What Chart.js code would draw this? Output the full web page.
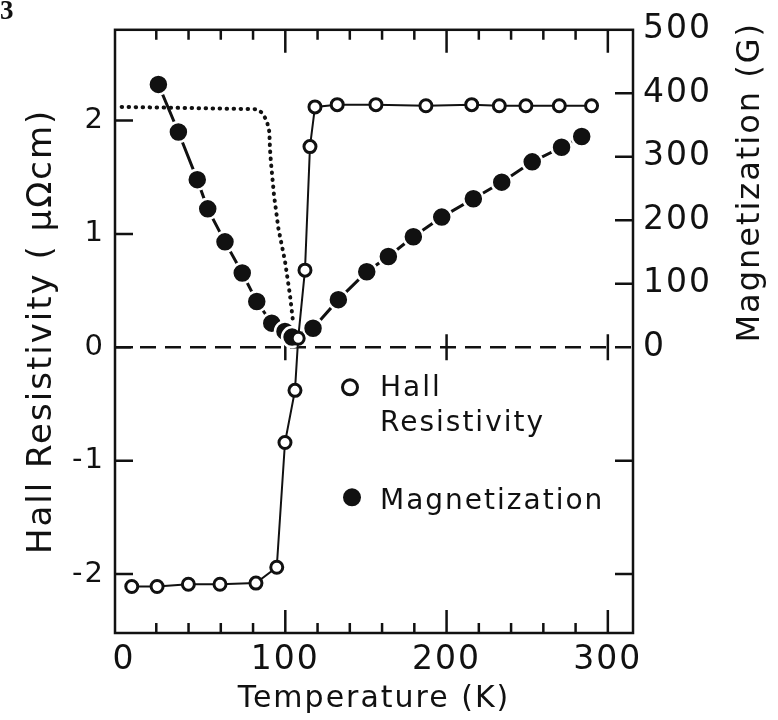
<!DOCTYPE html>
<html>
<head>
<meta charset="utf-8">
<title>Hall Resistivity and Magnetization vs Temperature</title>
<script src="https://cdn.jsdelivr.net/npm/chart.js@4.4.1/dist/chart.umd.min.js"></script>
<style>
  html, body { margin: 0; padding: 0; background: #fff; }
  canvas { display: block; }
</style>
</head>
<body>
<canvas id="chart" width="778" height="720"></canvas>
<script>
// Hall resistivity (open circles): temperature in K, value in μΩcm
const hallT = [4.8, 20.5, 39.9, 59.5, 81.8, 94.7, 99.8, 106.0, 108.0, 112.2, 115.3, 118.4,
  132.2, 156.2, 187.2, 215.6, 232.7, 249.2, 269.9, 289.9];
const hallRho = [-2.11, -2.11, -2.09, -2.09, -2.08, -1.94, -0.84, -0.38, 0.08, 0.68, 1.77, 2.12,
  2.14, 2.14, 2.13, 2.14, 2.13, 2.13, 2.13, 2.13];

// magnetization (filled circles): temperature in K, value in G
const magT = [21.3, 33.7, 45.4, 51.9, 62.6, 73.3, 82.3, 91.6, 99.8, 104.2, 117.2,
  132.9, 150.5, 163.9, 179.4, 197.0, 216.6, 234.2, 253.1, 271.3, 283.8];
const magM = [414, 339, 264, 218, 166, 117, 72, 38, 25, 16, 30,
  75, 119, 143, 174, 205, 234, 260, 292, 315, 332];

// dotted curve (unlabelled in the figure), left axis units
const dotT = [-1.5, 82.3, 85.4, 88.5, 90.1, 90.5, 91.1, 93.0, 95.7, 99.8, 102.9, 105.0];
const dotRho = [2.12, 2.10, 2.07, 2.00, 1.90, 1.75, 1.63, 1.34, 1.05, 0.76, 0.46, 0.20];

// tick labels
const tempTicks = [0, 100, 200, 300];
const rhoTicks = [-2, -1, 0, 1, 2];
const magTicks = [0, 100, 200, 300, 400, 500];
const minorStep = 20;

const xTitle = 'Temperature (K)';
const yTitle = 'Hall Resistivity ( μΩcm)';
const y2Title = 'Magnetization (G)';
const hallLegend = ['Hall', 'Resistivity'];
const magLegend = ['Magnetization'];
const figLabel = '3';

const INK = '#111';
const FONT = '"DejaVu Sans", sans-serif';
const SPACING = '2px';

Chart.defaults.font.family = FONT;
Chart.defaults.color = INK;

function pts(xs, ys) {
  return xs.map((x, i) => ({ x: x, y: ys[i] }));
}

// frame, inward ticks, dashed zero line, legend and right title
const decor = {
  id: 'decor',
  beforeUpdate(chart) {
    chart.ctx.letterSpacing = SPACING;
  },
  beforeDraw(chart) {
    const ctx = chart.ctx;
    ctx.save();
    ctx.fillStyle = '#fff';
    ctx.fillRect(0, 0, chart.width, chart.height);
    ctx.restore();
    ctx.letterSpacing = SPACING;
  },
  beforeDatasetsDraw(chart) {
    const ctx = chart.ctx;
    const a = chart.chartArea;
    const sx = chart.scales.x, sy = chart.scales.y, sm = chart.scales.y2;
    const y0 = sy.getPixelForValue(0);
    ctx.save();
    ctx.strokeStyle = INK;
    ctx.lineWidth = 2.5;
    ctx.strokeRect(a.left, a.top, a.right - a.left, a.bottom - a.top);

    ctx.beginPath();
    for (let t = minorStep; t <= sx.max; t += minorStep) {
      const px = sx.getPixelForValue(t);
      const len = t % 100 === 0 ? 23 : 10;
      ctx.moveTo(px, a.bottom); ctx.lineTo(px, a.bottom - len);
      ctx.moveTo(px, a.top); ctx.lineTo(px, a.top + len);
    }
    rhoTicks.forEach(v => {
      const py = sy.getPixelForValue(v);
      ctx.moveTo(a.left, py); ctx.lineTo(a.left + 18, py);
      if (v < 0) { ctx.moveTo(a.right, py); ctx.lineTo(a.right - 18, py); }
    });
    magTicks.forEach(v => {
      if (v === 0 || v >= sm.max) return;
      const py = sm.getPixelForValue(v);
      ctx.moveTo(a.right, py); ctx.lineTo(a.right - 18, py);
    });
    // little crosses on the zero line
    tempTicks.forEach(t => {
      if (t === 0) return;
      const px = sx.getPixelForValue(t);
      ctx.moveTo(px, y0 - 13); ctx.lineTo(px, y0 + 13);
    });
    ctx.stroke();

    ctx.setLineDash([16, 9]);
    ctx.beginPath();
    ctx.moveTo(a.left, y0); ctx.lineTo(a.right, y0);
    ctx.stroke();
    ctx.restore();
  },
  afterDraw(chart) {
    const ctx = chart.ctx;
    const a = chart.chartArea;
    const y0 = chart.scales.y.getPixelForValue(0);
    const hall = chart.data.datasets[0];
    ctx.save();
    ctx.letterSpacing = SPACING;

    // legend
    ctx.strokeStyle = INK;
    ctx.lineWidth = hall.pointBorderWidth;
    ctx.beginPath();
    ctx.arc(a.left + 235, y0 + 40, 7.5, 0, Math.PI * 2);
    ctx.fillStyle = '#fff';
    ctx.fill();
    ctx.stroke();
    ctx.fillStyle = INK;
    ctx.beginPath();
    ctx.arc(a.left + 237, y0 + 150, 9, 0, Math.PI * 2);
    ctx.fill();

    ctx.font = '28px ' + FONT;
    ctx.textAlign = 'left';
    ctx.textBaseline = 'alphabetic';
    ctx.fillText(hallLegend[0], a.left + 265, y0 + 49);
    ctx.fillText(hallLegend[1], a.left + 265, y0 + 84);
    ctx.fillText(magLegend[0], a.left + 265, y0 + 162);

    // right axis title, reading upwards
    ctx.save();
    ctx.font = '32px ' + FONT;
    ctx.translate(a.right + 118, y0 - 165);
    ctx.rotate(-Math.PI / 2);
    ctx.textAlign = 'center';
    ctx.textBaseline = 'middle';
    ctx.fillText(y2Title, 0, 0);
    ctx.restore();

    // figure number, cut at the corner
    ctx.font = 'bold 27px "Liberation Serif", serif';
    ctx.textAlign = 'left';
    ctx.fillText(figLabel, 0, 19);
    ctx.restore();
  }
};

const chartCanvas = document.getElementById('chart');

const data = {
  datasets: [
    {
      label: 'Hall Resistivity',
      data: pts(hallT, hallRho),
      yAxisID: 'y',
      borderColor: INK,
      borderWidth: 2,
      pointRadius: 6,
      pointHoverRadius: 6,
      pointBorderWidth: 3,
      pointBackgroundColor: '#fff',
      pointBorderColor: INK,
      tension: 0
    },
    {
      label: 'Magnetization',
      data: pts(magT, magM),
      yAxisID: 'y2',
      borderColor: INK,
      borderWidth: 3,
      pointRadius: 10,
      pointHoverRadius: 10,
      pointBorderWidth: 2.5,
      pointBackgroundColor: INK,
      pointBorderColor: '#fff',
      tension: 0
    },
    {
      label: 'dotted',
      data: pts(dotT, dotRho),
      yAxisID: 'y',
      borderColor: INK,
      borderWidth: 4,
      borderDash: [0.5, 6.5],
      borderCapStyle: 'round',
      pointRadius: 0,
      tension: 0
    }
  ]
};

const config = {
  type: 'line',
  data: data,
  plugins: [decor],
  options: {
    responsive: false,
    animation: false,
    layout: { padding: { top: 27, left: 0, right: 0, bottom: 0 } },
    plugins: {
      legend: { display: false },
      tooltip: { enabled: false }
    },
    scales: {
      x: {
        type: 'linear',
        position: 'bottom',
        min: -5.6,
        max: 315.6,
        afterBuildTicks: s => { s.ticks = tempTicks.map(v => ({ value: v })); },
        afterFit: s => { s.height = 87; },
        grid: { display: false, drawTicks: false },
        border: { display: false },
        ticks: { font: { size: 33 }, color: INK, padding: 8, maxRotation: 0 },
        title: {
          display: true,
          text: xTitle,
          color: INK,
          font: { size: 30 },
          padding: { top: 0, bottom: 3 }
        }
      },
      y: {
        type: 'linear',
        position: 'left',
        min: -2.52,
        max: 2.8,
        afterBuildTicks: s => { s.ticks = rhoTicks.map(v => ({ value: v })); },
        afterFit: s => { s.width = 115; },
        grid: { display: false, drawTicks: false },
        border: { display: false },
        ticks: { font: { size: 29 }, color: INK, padding: 10 },
        title: {
          display: true,
          text: yTitle,
          color: INK,
          font: { size: 34 },
          padding: { top: 22, bottom: 0 }
        }
      },
      y2: {
        type: 'linear',
        position: 'right',
        min: -450,
        max: 500,
        afterBuildTicks: s => { s.ticks = magTicks.map(v => ({ value: v })); },
        afterFit: s => { s.width = 145; },
        grid: { display: false, drawTicks: false },
        border: { display: false },
        ticks: { font: { size: 33 }, color: INK, padding: 10 }
      }
    }
  }
};

const myChart = new Chart(chartCanvas, config);
</script>
</body>
</html>
